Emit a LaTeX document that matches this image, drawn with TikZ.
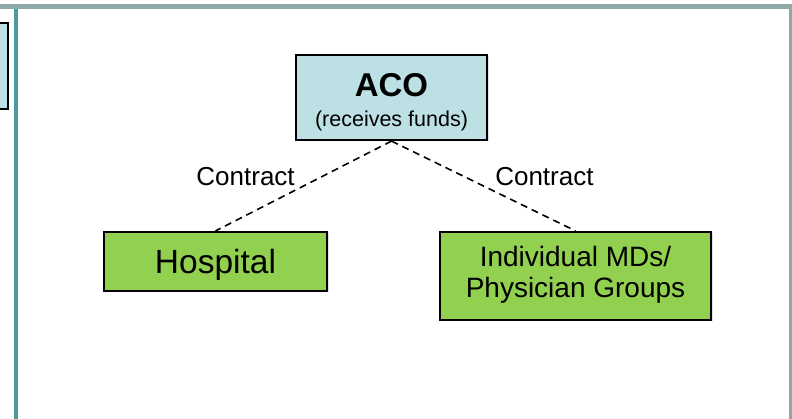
\documentclass[tikz,border=0pt]{standalone}
\usepackage{fontspec}
\setmainfont{Liberation Sans}
\usetikzlibrary{positioning,shadows}
\definecolor{acoblue}{RGB}{188,224,228}
\definecolor{provgreen}{RGB}{146,208,80}
\definecolor{frameteal}{RGB}{74,155,162}
\definecolor{framegray}{RGB}{143,169,169}

\begin{document}
\begin{tikzpicture}[x=1pt,y=-1pt,every node/.style={align=center,inner sep=0pt},
	box/.style={draw,line width=2.2pt,drop shadow={opacity=0.25,shadow xshift=1.5pt,shadow yshift=-1.5pt}},
	contract/.style={line width=1.6pt,dash pattern=on 7pt off 5pt}]

	\useasboundingbox (0,0) rectangle (792,419);

	% frame of the slide
	\draw[frameteal,line width=3.5pt] (15.8,7) -- (15.8,419);
	\draw[framegray,line width=5pt] (0,6.5) -- (792,6.5);
	\draw[framegray,line width=3pt] (790.5,6.5) -- (790.5,419);
	\node[draw,fill=acoblue,line width=2.2pt,minimum width=40pt,minimum height=86pt] (side) at (-12,66) {};

	\node[box,fill=acoblue,minimum width=191pt,minimum height=85pt,text height=58pt,text depth=0pt,
		font=\fontsize{21.5}{30}\selectfont] (ACO) at (391.5,97.5) {
		{\fontsize{33}{30}\selectfont\bfseries ACO}\\
		(receives funds)
	};
	\node[box,fill=provgreen,minimum width=223pt,minimum height=59pt,text depth=0pt,
		font=\fontsize{33.5}{36}\selectfont] (Hosp) at (215.5,261.5) {Hospital};
	\node[box,fill=provgreen,minimum width=271pt,minimum height=88pt,text depth=8.4pt,
		font=\fontsize{28}{30.5}\selectfont] (MDs) at (575.5,276) {
		Individual MDs/\\
		Physician Groups
	};

	\draw[contract] (ACO.south) -- (Hosp.north) node[midway,left=8pt,yshift=9pt,font=\fontsize{26}{28}\selectfont] {Contract};
	\draw[contract] (ACO.south) -- (MDs.north) node[midway,right=11pt,yshift=9pt,font=\fontsize{26}{28}\selectfont] {Contract};
\end{tikzpicture}
\end{document}
